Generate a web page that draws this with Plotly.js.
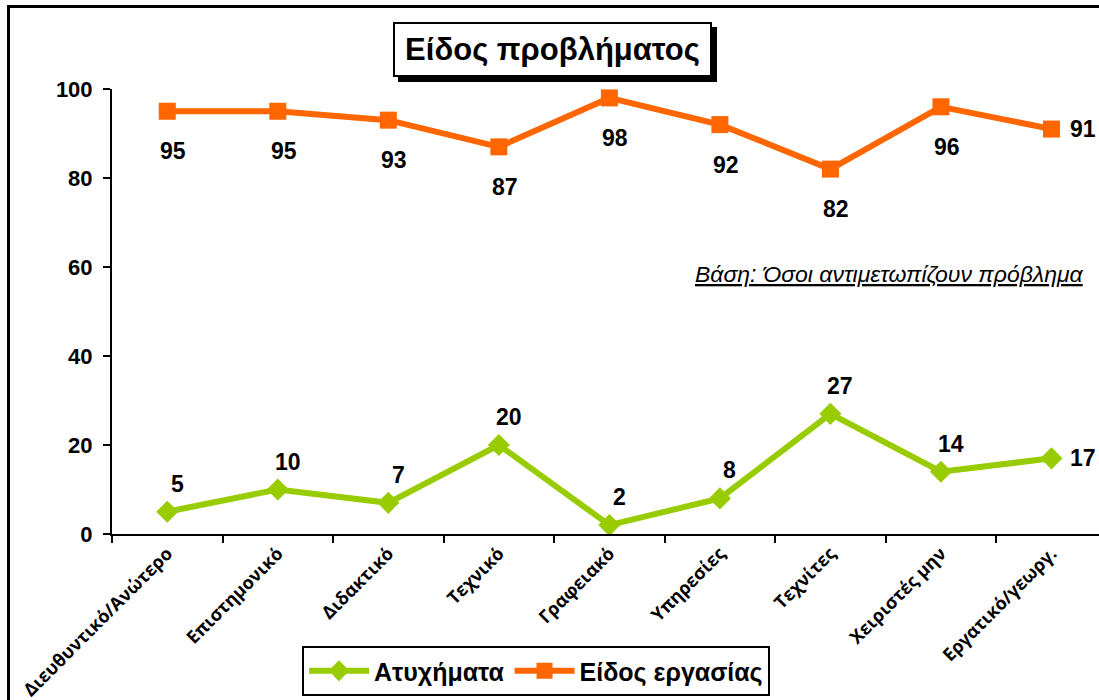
<!DOCTYPE html>
<html>
<head>
<meta charset="utf-8">
<script src="https://cdn.plot.ly/plotly-3.0.1.min.js"></script>
<style>
  body { margin: 0; background: #fff; }
  #chart { width: 1099px; height: 700px; }
  #frame { position: absolute; left: 7px; top: 5px; width: 1100px; height: 700px;
           border-top: 3px solid #000; border-left: 3px solid #000; pointer-events: none; }
</style>
</head>
<body>
<div id="chart"></div>
<div id="frame"></div>
<script>
const categories = ["Διευθυντικό/Ανώτερο", "Επιστημονικό", "Διδακτικό", "Τεχνικό", "Γραφειακό",
                    "Υπηρεσίες", "Τεχνίτες", "Χειριστές μην", "Εργατικό/γεωργ."];
const accidents = [5, 10, 7, 20, 2, 8, 27, 14, 17];
const workType = [95, 95, 93, 87, 98, 92, 82, 96, 91];
const seriesNames = ["Ατυχήματα", "Είδος εργασίας"];
const yTicks = [0, 20, 40, 60, 80, 100];

const green = "#99CC00";
const orange = "#FF6600";
const arial = "Arial, Liberation Sans, sans-serif";

const traces = [
  { x: categories, y: accidents, name: seriesNames[0], type: "scatter", mode: "lines+markers",
    line: { color: green, width: 6 }, marker: { symbol: "diamond", size: 17, color: green },
    hoverinfo: "skip" },
  { x: categories, y: workType, name: seriesNames[1], type: "scatter", mode: "lines+markers",
    line: { color: orange, width: 6 }, marker: { symbol: "square", size: 17, color: orange },
    hoverinfo: "skip" }
];

const labelFont = { family: arial, size: 23, color: "#000", weight: "bold" };
const last = categories.length - 1;
const dataAnns = [];
categories.forEach((c, i) => {
  dataAnns.push({ x: c, y: workType[i], xref: "x", yref: "y", text: String(workType[i]),
    showarrow: false, font: labelFont,
    xshift: i === last ? 32 : 6, yshift: i === last ? 0 : -40 });
  dataAnns.push({ x: c, y: accidents[i], xref: "x", yref: "y", text: String(accidents[i]),
    showarrow: false, font: labelFont,
    xshift: i === last ? 32 : 10, yshift: i === last ? 0 : 28 });
});

const M = { l: 112, r: 0, t: 89, b: 166 };
const PW = 1099 - M.l - M.r, PH = 700 - M.t - M.b;
const px = v => (v - M.l) / PW;
const py = v => 1 - (v - M.t) / PH;

const annotations = dataAnns.concat([
  { xref: "paper", yref: "paper", x: px(1086), y: py(274), xanchor: "right", yanchor: "middle",
    text: "<i><u>Βάση: Όσοι αντιμετωπίζουν πρόβλημα</u></i>", showarrow: false,
    font: { family: arial, size: 23, color: "#000" } },
  { xref: "paper", yref: "paper", x: px(552.5), y: py(49.5), xanchor: "center", yanchor: "middle",
    text: "Είδος προβλήματος", showarrow: false,
    width: 311, height: 47, bgcolor: "#fff", bordercolor: "#000", borderwidth: 2, borderpad: 2,
    font: { family: arial, size: 31, color: "#000", weight: "bold" } }
]);

const shapes = [
  { type: "rect", xref: "paper", yref: "paper", x0: px(398), x1: px(717), y0: py(27), y1: py(82),
    fillcolor: "#000", line: { width: 0 }, layer: "above" }
];

const layout = {
  width: 1099, height: 700,
  margin: M,
  paper_bgcolor: "#fff", plot_bgcolor: "#fff",
  showlegend: true,
  legend: { orientation: "h", x: px(536), xanchor: "center", y: py(646), yanchor: "top",
            bordercolor: "#000", borderwidth: 2, bgcolor: "#fff",
            font: { family: arial, size: 25, color: "#000", weight: "bold" },
            itemwidth: 60, traceorder: "normal" },
  xaxis: {
    type: "category", range: [-0.5, 8.43], tickangle: -45, tickson: "boundaries",
    ticks: "outside", ticklen: 7, tickwidth: 2, tickcolor: "#000",
    showline: true, linecolor: "#000", linewidth: 2, showgrid: false, zeroline: false,
    tickfont: { family: "Open Sans, sans-serif", size: 18, color: "#000", weight: "bold" }, fixedrange: true
  },
  yaxis: {
    range: [0, 100], tickvals: yTicks, ticks: "outside", ticklen: 7, tickwidth: 2, tickcolor: "#000",
    showline: true, linecolor: "#000", linewidth: 2, showgrid: false, zeroline: false,
    tickfont: { family: arial, size: 22, color: "#000", weight: "bold" },
    ticklabelstandoff: 6, fixedrange: true
  },
  annotations: annotations,
  shapes: shapes
};

Plotly.newPlot("chart", traces, layout, { staticPlot: true });
</script>
</body>
</html>
